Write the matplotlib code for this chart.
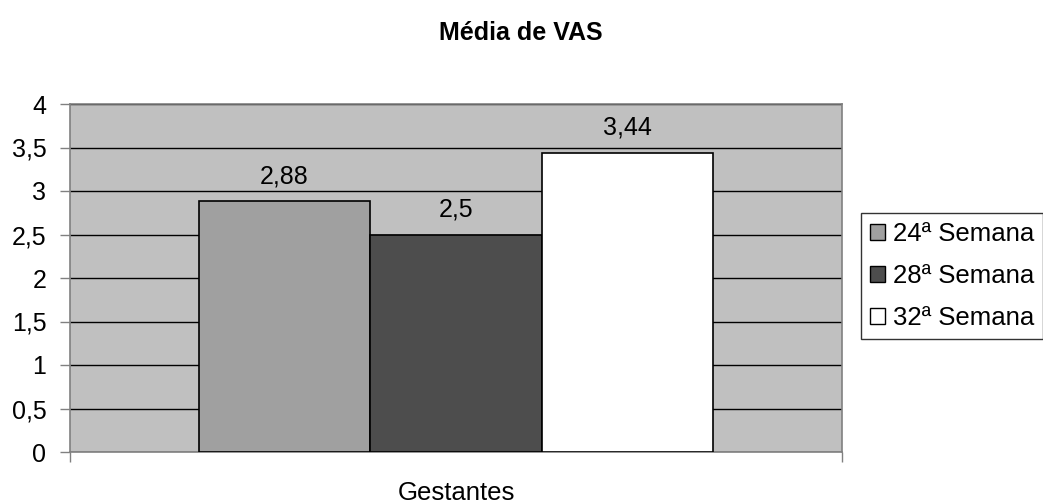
import matplotlib
matplotlib.use("Agg")
import matplotlib.pyplot as plt
import numpy as np

plt.rcParams['font.family'] = ['Liberation Sans', 'DejaVu Sans']

# data
categories = ['Gestantes']
series = ['24ª Semana', '28ª Semana', '32ª Semana']
values = [2.88, 2.5, 3.44]
labels = ['2,88', '2,5', '3,44']
yticks = [0, 0.5, 1, 1.5, 2, 2.5, 3, 3.5, 4]
ytick_labels = ['0', '0,5', '1', '1,5', '2', '2,5', '3', '3,5', '4']
colors = ['#a0a0a0', '#4d4d4d', '#ffffff']

fig = plt.figure(figsize=(10.43, 5.04), dpi=100)
ax = fig.add_axes([70 / 1043, 1 - 452 / 504, 772 / 1043, 348 / 504])
ax.set_facecolor('#c0c0c0')

width = 0.222
offsets = (np.arange(len(series)) - 1) * width
for i, (name, v, lab) in enumerate(zip(series, values, labels)):
    ax.bar(offsets[i], v, width=width, color=colors[i], edgecolor='black',
           linewidth=1.2, label=name, zorder=3)
    ax.annotate(lab, (offsets[i], v), xytext=(0, 13), textcoords='offset points',
                ha='center', va='baseline', fontsize=18)

ax.set_ylim(0, 4)
ax.set_xlim(-0.5, 0.5)
ax.set_yticks(yticks)
ax.set_yticklabels(ytick_labels, fontsize=18)
ax.yaxis.grid(True, color='black', linewidth=1, zorder=0)
ax.set_axisbelow(True)
ax.set_xticks([-0.5, 0.5])
ax.set_xticklabels(['', ''])
ax.tick_params(axis='both', length=7, color='#808080', width=1)
ax.tick_params(axis='y', pad=10)
for s in ax.spines.values():
    s.set_color('#808080')
    s.set_linewidth(1.2)

fig.text(456 / 1043, 1 - 493 / 504, categories[0], ha='center', va='center', fontsize=18.5)
fig.text(521 / 1043, 1 - 33 / 504, 'Média de VAS', ha='center', va='center',
         fontsize=18, fontweight='bold')

leg = ax.legend(loc='upper left', bbox_to_anchor=(861 / 1043, 1 - 213 / 504),
                bbox_transform=fig.transFigure, fontsize=18.5, frameon=True,
                fancybox=False, borderpad=0.35, labelspacing=0.7,
                handlelength=0.6, handleheight=0.6, handletextpad=0.3,
                borderaxespad=0)
leg.get_frame().set_edgecolor('black')
leg.get_frame().set_linewidth(1)
for h in leg.legend_handles:
    h.set_linewidth(1)

fig.savefig('out.png', dpi=100)
